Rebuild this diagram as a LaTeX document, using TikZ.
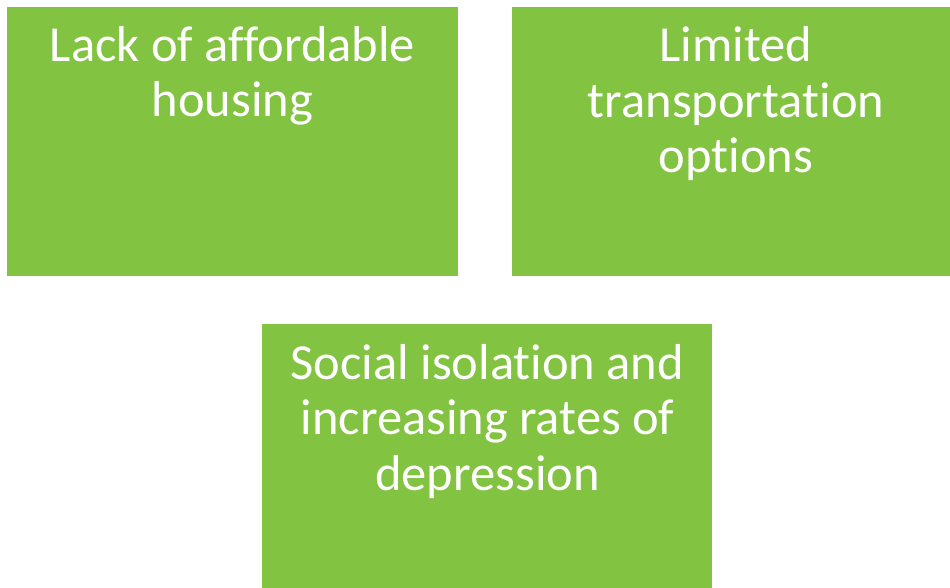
\documentclass[tikz,border=0pt]{standalone}
\usepackage{fontspec}
\setmainfont{Carlito}[Ligatures=NoCommon]
\definecolor{boxgreen}{RGB}{130,195,65}
\begin{document}
\begin{tikzpicture}[x=1pt,y=-1pt,
  greenbox/.style={fill=boxgreen,draw=none},
  boxtext/.style={text=white,font=\fontsize{50.5}{55.5}\selectfont,align=center,inner sep=0pt,anchor=base}]
\useasboundingbox (0,0) rectangle (950,588);
\fill[greenbox] (7,7) rectangle (458,275.5);
\fill[greenbox] (511.5,7) rectangle (950,275.5);
\fill[greenbox] (262,324) rectangle (712,588);
\node[boxtext] (t1) at (232.5,117) {Lack of affordable\\housing};
\node[boxtext] (t2) at (736,173) {Limited\\transportation\\options};
\node[boxtext] (t3) at (487.5,490) {Social isolation and\\increasing rates of\\depression};
\end{tikzpicture}
\end{document}
